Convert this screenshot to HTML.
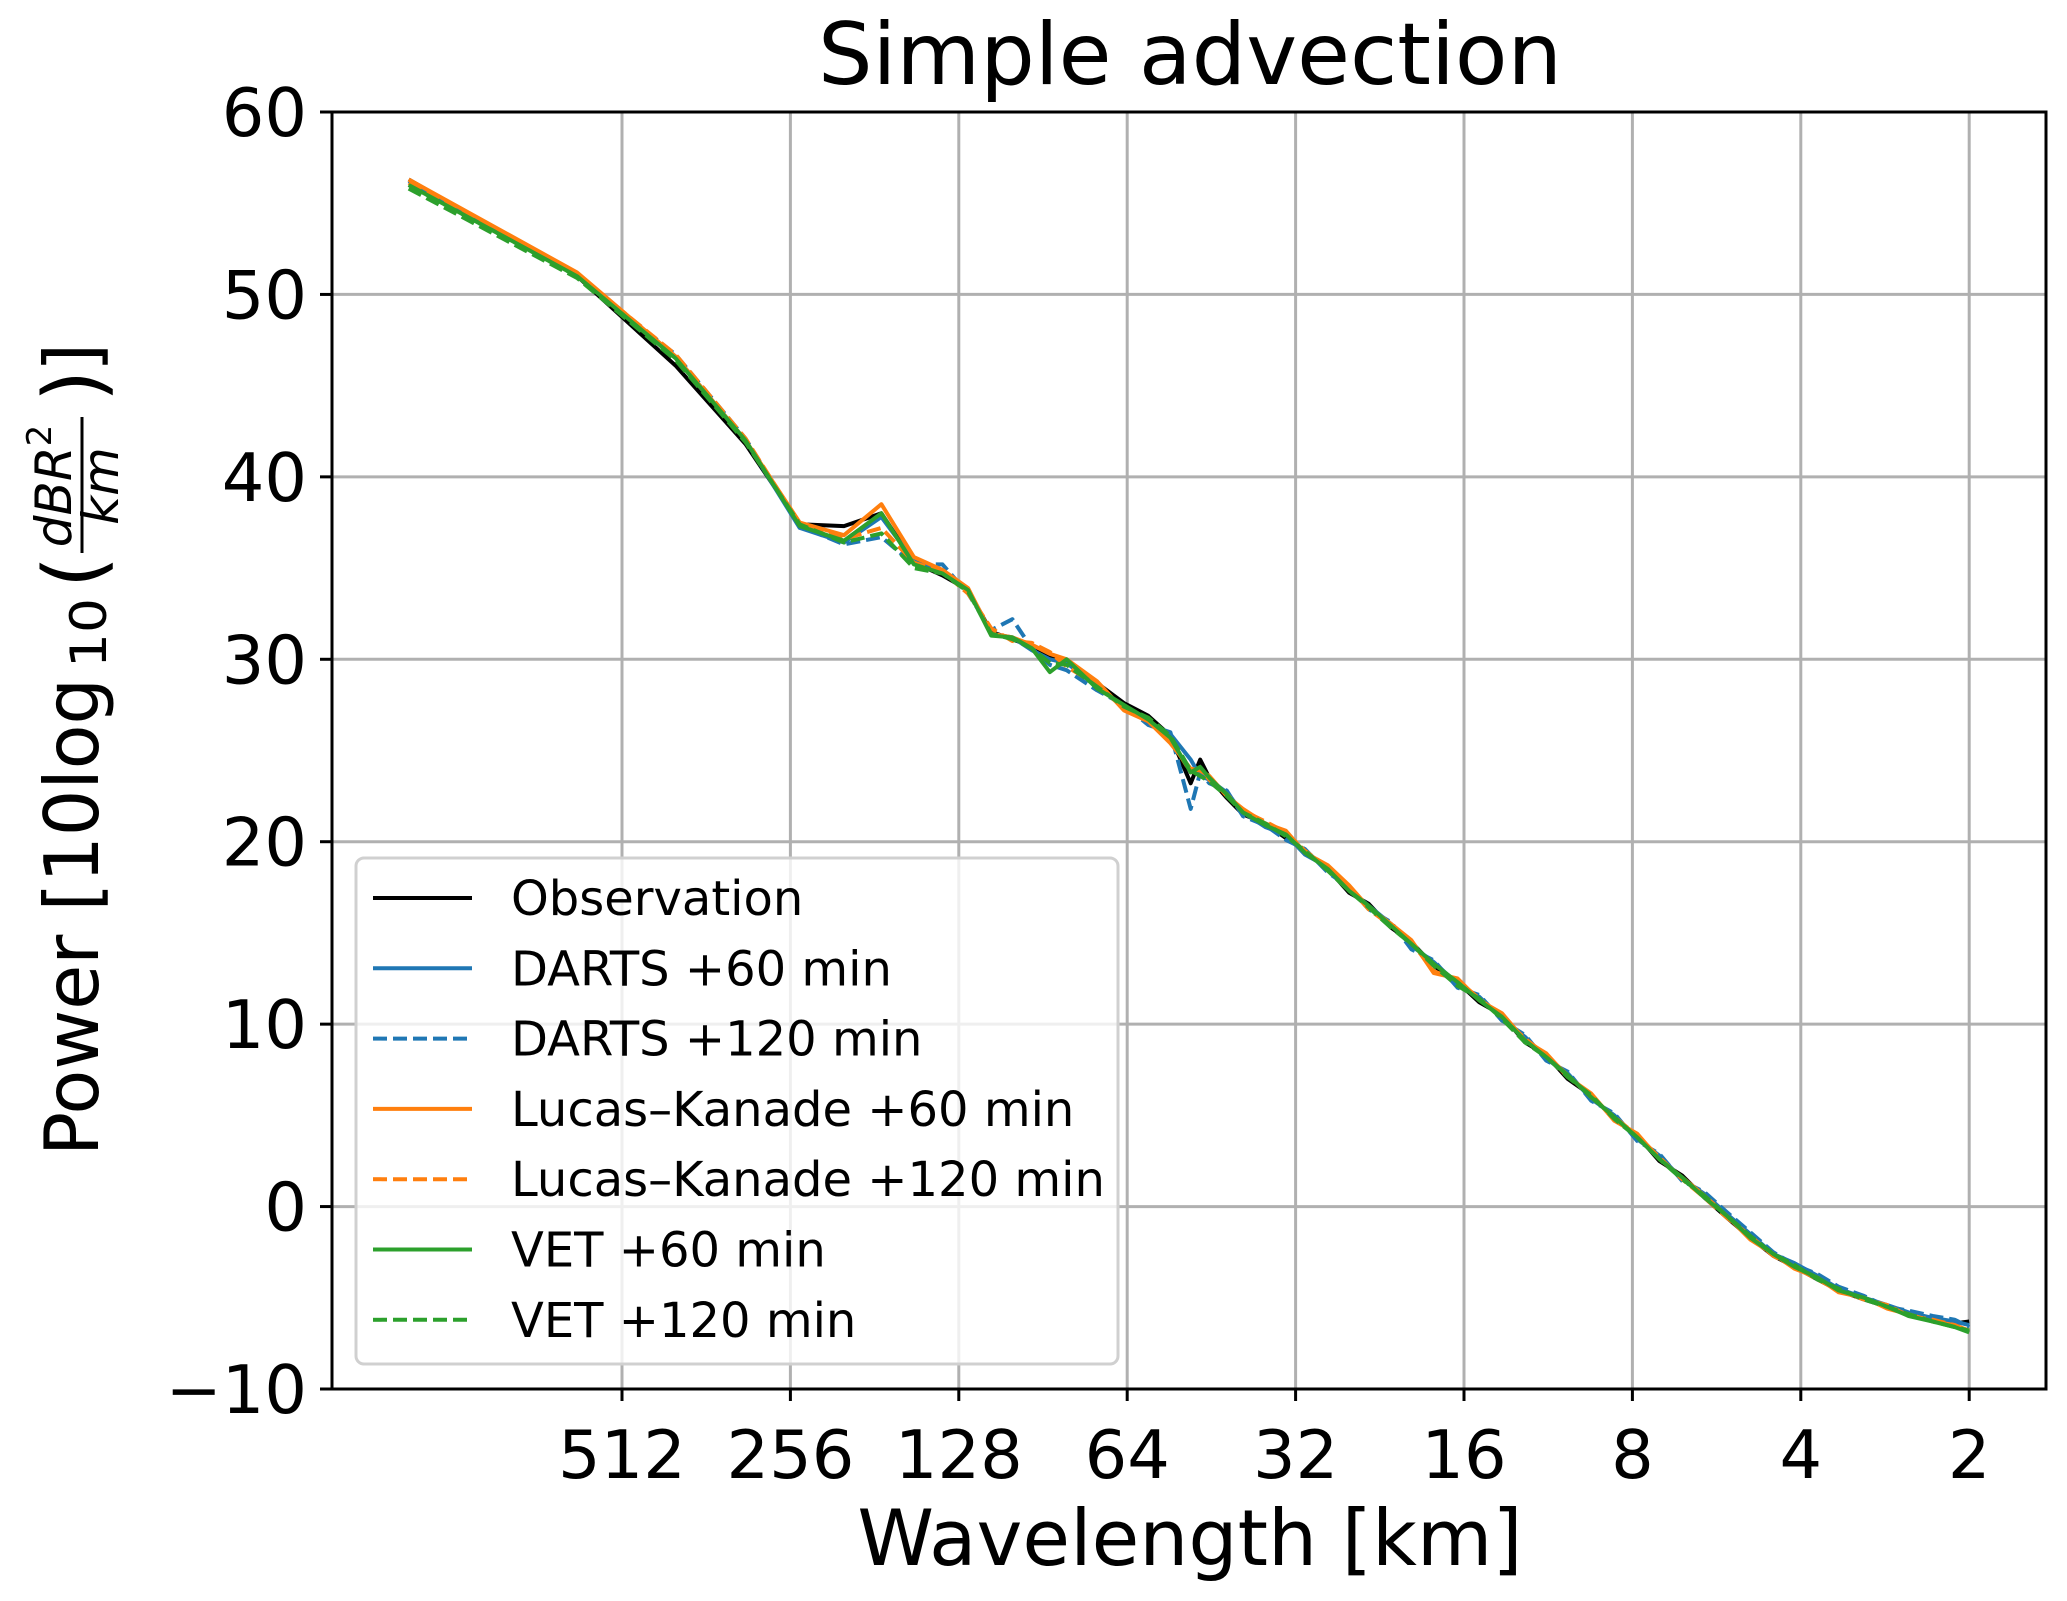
<!DOCTYPE html>
<html><head><meta charset="utf-8"><title>Simple advection</title>
<style>html,body{margin:0;padding:0;background:#fff}svg{display:block;font-family:"DejaVu Sans","Liberation Sans",sans-serif}</style>
</head><body>
<svg id="chart" width="2067" height="1601" viewBox="0 0 2067 1601" xmlns="http://www.w3.org/2000/svg">
<rect x="0" y="0" width="2067" height="1601" fill="#fff"/>
<g id="grid"></g>
<g id="series"></g>
<rect x="332" y="112" width="1714" height="1277" fill="none" stroke="#000" stroke-width="3"/>
<g id="ticks"></g>
<text x="1190" y="84" font-size="86" text-anchor="middle">Simple advection</text>
<text x="1190" y="1565" font-size="77.5" text-anchor="middle">Wavelength [km]</text>
<g transform="translate(98,0) rotate(-90)">
  <text x="-1156" y="0" font-size="75" textLength="478" lengthAdjust="spacingAndGlyphs">Power [10log</text>
  <text x="-668" y="8" font-size="50" textLength="70" lengthAdjust="spacingAndGlyphs">10</text>
  <text x="-588" y="4" font-size="82">(</text>
  <line x1="-553" y1="-16" x2="-417" y2="-16" stroke="#000" stroke-width="3"/>
  <text x="-486" y="-27" font-size="50" font-style="italic" text-anchor="middle">dBR<tspan font-size="34" dy="-20" font-style="normal">2</tspan></text>
  <text x="-486" y="20" font-size="50" font-style="italic" text-anchor="middle">km</text>
  <text x="-402" y="4" font-size="82">)</text>
  <text x="-372" y="0" font-size="75">]</text>
</g>
<g>
  <rect x="356" y="858" width="762" height="506" rx="8" fill="#fff" fill-opacity="0.8" stroke="#d0d0d0" stroke-width="3"/>
  <g id="legend-entries"></g>
</g>
</svg>
<script>
const seriesNames = ["Observation","DARTS +60 min","DARTS +120 min","Lucas\u2013Kanade +60 min","Lucas\u2013Kanade +120 min","VET +60 min","VET +120 min"];
const seriesColors = ["#000000","#1f77b4","#1f77b4","#ff7f0e","#ff7f0e","#2ca02c","#2ca02c"];
const seriesDashed = [false,false,true,false,true,false,true];
const waveNumbers = [1,2,3,4,5,6,7,8,9,10,11,12,13,14,15,17,19,21,23,25,26,27,29,31,34,37,40,44,48,52,57,62,68,75,82,90,99,108,118,130,143,157,172,189,207,227,250,275,300,330,360,400,440,480,530,580,616];
const domainKm = 1232;
const obsValues = [56.3,51.0,46.1,41.8,37.4,37.3,38.0,35.3,34.6,33.8,31.5,31.1,30.7,30.1,29.9,28.7,27.6,26.9,25.8,23.2,24.5,23.5,22.4,21.5,21.0,20.2,19.5,18.5,17.2,16.6,15.3,14.5,13.2,12.3,11.2,10.5,9.0,8.3,7.0,6.1,4.8,3.9,2.5,1.7,0.5,-0.6,-1.7,-2.7,-3.3,-4.0,-4.6,-5.1,-5.5,-5.9,-6.2,-6.4,-6.3];
const darts60Values = [56.2,51.1,46.6,42.0,37.2,36.4,37.8,35.4,34.7,33.8,31.4,31.2,30.5,30.0,29.8,28.5,27.4,26.6,25.9,24.5,23.6,23.4,22.7,21.6,20.8,20.4,19.3,18.6,17.4,16.5,15.5,14.3,13.4,12.2,11.5,10.3,9.3,8.1,7.3,5.9,5.0,3.7,2.8,1.5,0.7,-0.4,-1.5,-2.6,-3.1,-3.8,-4.5,-5.0,-5.4,-5.8,-6.1,-6.3,-6.5];
const darts120Values = [56.0,51.0,46.7,42.1,37.3,36.3,36.7,35.2,35.2,33.6,31.6,32.2,30.6,29.7,29.4,28.3,27.5,26.4,26.0,21.8,23.8,23.2,22.8,21.4,20.9,20.1,19.6,18.3,17.5,16.3,15.6,14.1,13.5,12.0,11.6,10.2,9.4,8.0,7.4,5.8,5.1,3.6,2.9,1.4,0.8,-0.3,-1.4,-2.5,-3.2,-3.7,-4.4,-4.9,-5.5,-5.7,-6.0,-6.2,-6.6];
const lk60Values = [56.3,51.2,46.6,42.0,37.5,36.8,38.5,35.6,34.9,33.9,31.4,31.2,30.8,30.3,30.0,28.8,27.2,26.6,25.4,24.0,23.9,23.6,22.5,21.8,21.0,20.6,19.4,18.7,17.6,16.4,15.5,14.6,12.8,12.5,11.3,10.6,9.1,8.4,7.1,6.2,4.7,4.0,2.6,1.6,0.6,-0.5,-1.8,-2.6,-3.4,-3.9,-4.7,-5.0,-5.6,-5.9,-6.3,-6.5,-6.8];
const lk120Values = [56.1,51.1,46.7,42.1,37.4,36.6,37.2,35.3,34.8,33.6,31.7,31.0,30.9,30.4,29.6,28.6,27.3,26.7,25.6,23.8,24.0,23.4,22.6,21.7,21.1,20.5,19.5,18.6,17.5,16.3,15.4,14.5,12.9,12.4,11.4,10.4,9.2,8.3,7.2,6.0,4.9,3.9,2.7,1.5,0.5,-0.6,-1.6,-2.7,-3.3,-4.0,-4.6,-5.1,-5.4,-6.0,-6.2,-6.5,-6.9];
const vet60Values = [56.0,51.0,46.5,42.0,37.3,36.5,38.0,35.2,34.7,33.8,31.3,31.2,30.6,29.3,30.0,28.4,27.5,26.7,25.7,23.8,24.1,23.5,22.6,21.6,20.9,20.4,19.4,18.5,17.3,16.5,15.4,14.4,13.3,12.3,11.3,10.4,9.1,8.2,7.2,6.0,4.9,3.8,2.6,1.6,0.5,-0.5,-1.7,-2.6,-3.3,-3.9,-4.6,-5.0,-5.5,-6.0,-6.3,-6.6,-6.9];
const vet120Values = [55.8,50.9,46.4,41.9,37.4,36.4,36.9,35.0,34.7,33.7,31.4,31.1,30.6,29.8,29.7,28.5,27.4,26.8,25.8,23.9,23.6,23.3,22.5,21.6,21.0,20.3,19.5,18.4,17.3,16.4,15.3,14.4,13.2,12.1,11.4,10.3,9.0,8.2,7.1,6.1,4.8,3.8,2.6,1.5,0.6,-0.5,-1.6,-2.6,-3.2,-4.0,-4.5,-5.1,-5.5,-5.9,-6.3,-6.6,-6.8];
const xTickValues = [512,256,128,64,32,16,8,4,2];
const xTickLabels = ["512","256","128","64","32","16","8","4","2"];
const yTickValues = [60,50,40,30,20,10,0,-10];
const yTickLabels = ["60","50","40","30","20","10","0","\u221210"];

const allSeries = [obsValues,darts60Values,darts120Values,lk60Values,lk120Values,vet60Values,vet120Values];
const NS = "http://www.w3.org/2000/svg";
const L = 332, R = 2046, T = 112, B = 1389;
function xScale(w){ return 622 + (9 - Math.log2(w)) * 168.4; }
function yScale(v){ return T + (60 - v) / 70 * (B - T); }
function mk(tag, attrs, parent){ const e = document.createElementNS(NS, tag); for (const k in attrs) e.setAttribute(k, attrs[k]); parent.appendChild(e); return e; }

const grid = document.getElementById('grid');
const ticks = document.getElementById('ticks');
xTickValues.forEach((w, i) => {
  const x = xScale(w);
  const g = mk('line', {x1:x, y1:T, x2:x, y2:B, stroke:'#b0b0b0', 'stroke-width':3}, grid);
  
  
  const t = mk('line', {x1:x, y1:B, x2:x, y2:B+12, stroke:'#000', 'stroke-width':3}, ticks);
  
  
  const lb = mk('text', {x:x, y:1478, 'font-size':67, 'text-anchor':'middle'}, ticks);
  lb.textContent = xTickLabels[i];
  
  
});
yTickValues.forEach((v, i) => {
  const y = yScale(v);
  const g = mk('line', {x1:L, y1:y, x2:R, y2:y, stroke:'#b0b0b0', 'stroke-width':3}, grid);
  
  
  const t = mk('line', {x1:L-12, y1:y, x2:L, y2:y, stroke:'#000', 'stroke-width':3}, ticks);
  
  
  const lb = mk('text', {x:307, y:y+24, 'font-size':67, 'text-anchor':'end'}, ticks);
  lb.textContent = yTickLabels[i];
  
  
});

const seriesG = document.getElementById('series');
allSeries.forEach((vals, s) => {
  const n = Math.min(vals.length, waveNumbers.length);
  let d = '';
  for (let i = 0; i < n; i++) {
    const w = domainKm / waveNumbers[i];
    d += (i ? 'L' : 'M') + xScale(w).toFixed(1) + ',' + yScale(vals[i]).toFixed(1);
  }
  const p = mk('path', {d:d, fill:'none', stroke:seriesColors[s], 'stroke-width':4, 'stroke-linejoin':'round'}, seriesG);
  if (seriesDashed[s]) p.setAttribute('stroke-dasharray', '14 6');
  
  
});

const leg = document.getElementById('legend-entries');
seriesNames.forEach((name, i) => {
  const cy = 898 + i * 70.3;
  const ln = mk('line', {x1:373, y1:cy, x2:472, y2:cy, stroke:seriesColors[i], 'stroke-width':4}, leg);
  if (seriesDashed[i]) ln.setAttribute('stroke-dasharray', '14 6');
  
  
  const tx = mk('text', {x:511, y:cy+17, 'font-size':48}, leg);
  tx.textContent = name;
  
  
});
</script>
</body></html>
